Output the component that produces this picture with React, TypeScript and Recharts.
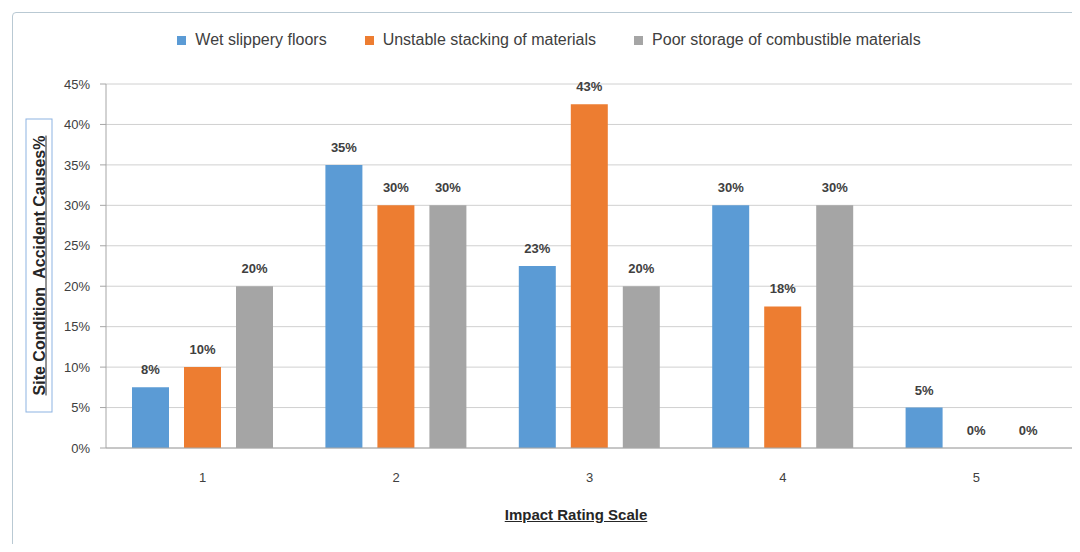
import React from 'react';
import { BarChart, Bar, XAxis, YAxis, CartesianGrid, LabelList } from 'recharts';

const categories = ['1', '2', '3', '4', '5'];
const wetFloors = [7.5, 35, 22.5, 30, 5];
const unstableStacking = [10, 30, 42.5, 17.5, 0];
const poorStorage = [20, 30, 20, 30, 0];
const yTicks = [0, 5, 10, 15, 20, 25, 30, 35, 40, 45];
const boundaryTicks = [0, 1, 2, 3, 4, 5];

const series = [
  { key: 'wet', name: 'Wet slippery floors', color: '#5b9bd5' },
  { key: 'stack', name: 'Unstable stacking of materials', color: '#ed7d31' },
  { key: 'storage', name: 'Poor storage of combustible materials', color: '#a5a5a5' },
];

const data = categories.map((c, i) => ({
  name: c,
  idx: i + 0.5,
  wet: wetFloors[i],
  stack: unstableStacking[i],
  storage: poorStorage[i],
}));

const FONT = '"Liberation Sans", Arial, sans-serif';
const TEXT = '#404040';

export default function App() {
  return (
    <div style={{ position: 'relative', width: 1080, height: 552, margin: -8, background: '#fff', fontFamily: FONT }}>
      <div
        style={{
          position: 'absolute',
          left: 12,
          top: 12,
          width: 1080,
          height: 535,
          border: '1px solid #b9c9d3',
          borderRadius: 4,
        }}
      />

      {/* legend */}
      <div
        style={{
          position: 'absolute',
          top: 31,
          left: 0,
          width: 1098,
          display: 'flex',
          justifyContent: 'center',
          gap: 38,
          fontSize: 16,
          color: TEXT,
        }}
      >
        {series.map((s) => (
          <div key={s.key} style={{ display: 'flex', alignItems: 'center' }}>
            <span style={{ width: 9, height: 9, background: s.color, marginRight: 9, display: 'inline-block' }} />
            {s.name}
          </div>
        ))}
      </div>

      <BarChart
        width={1080}
        height={552}
        data={data}
        margin={{ top: 84, right: 7, bottom: 64, left: 46 }}
        barSize={37}
        barGap={15}
        style={{ position: 'absolute', left: 0, top: 0 }}
      >
        <CartesianGrid horizontal vertical={false} stroke="#d0d0d0" />
        <XAxis
          xAxisId="edges"
          type="number"
          dataKey="idx"
          domain={[0, 5]}
          ticks={boundaryTicks}
          tickFormatter={() => ''}
          height={0}
          axisLine={false}
          tickLine={{ stroke: '#a6a6a6' }}
          tickSize={5}
        />
        <XAxis
          dataKey="name"
          height={40}
          axisLine={{ stroke: '#a6a6a6' }}
          tickLine={false}
          tickSize={6}
          tickMargin={19}
          tick={{ fill: TEXT, fontSize: 13, fontFamily: FONT }}
        />
        <YAxis
          domain={[0, 45]}
          ticks={yTicks}
          interval={0}
          width={60}
          tickFormatter={(v: number) => `${v}%`}
          axisLine={{ stroke: '#a6a6a6' }}
          tickLine={{ stroke: '#a6a6a6' }}
          tickSize={6}
          tickMargin={10}
          tick={{ fill: TEXT, fontSize: 13, fontFamily: FONT }}
        />
        {series.map((s) => (
          <Bar key={s.key} dataKey={s.key} name={s.name} fill={s.color} minPointSize={0.01} isAnimationActive={false}>
            <LabelList
              dataKey={s.key}
              position="top"
              offset={13}
              formatter={(v: number) => `${Math.round(v)}%`}
              style={{ fill: TEXT, fontSize: 13, fontWeight: 'bold', fontFamily: FONT }}
            />
          </Bar>
        ))}
      </BarChart>

      {/* y axis title */}
      <div
        style={{
          position: 'absolute',
          left: 39 - 147,
          top: 265 - 13,
          width: 294,
          height: 27,
          transform: 'rotate(-90deg)',
          border: '1px solid #8db3e2',
          boxSizing: 'border-box',
          display: 'flex',
          alignItems: 'center',
          justifyContent: 'center',
          fontSize: 16,
          fontWeight: 'bold',
          textDecoration: 'underline',
          color: '#262626',
          whiteSpace: 'nowrap',
        }}
      >
        Site Condition&nbsp; Accident Causes%
      </div>

      {/* x axis title */}
      <div
        style={{
          position: 'absolute',
          left: 0,
          width: 1152,
          top: 506,
          textAlign: 'center',
          fontSize: 15,
          fontWeight: 'bold',
          textDecoration: 'underline',
          color: '#262626',
        }}
      >
        Impact Rating Scale
      </div>
    </div>
  );
}
